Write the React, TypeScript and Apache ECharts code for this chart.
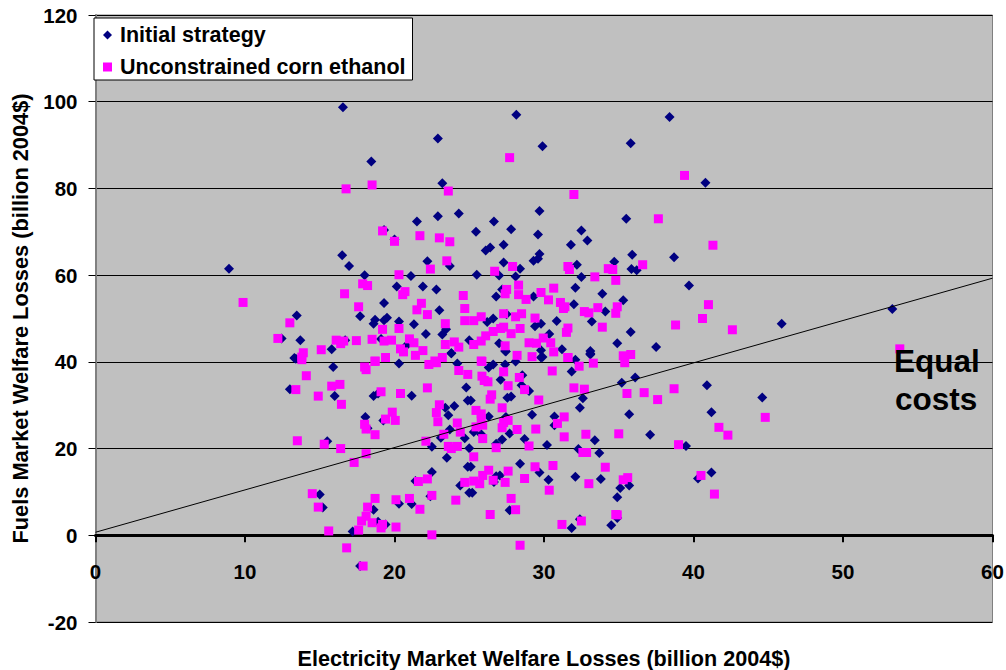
import React, { useEffect, useRef } from "react";
import * as echarts from "echarts";

const initialStrategy: number[][] = [
[16.55,98.7],[18.45,86.2],[19.3,70.4],[16.5,64.6],[16.96,62.1],[18,60],[8.93,61.5],[19.3,53.6],[13.46,50.7],[17.7,50.5],[18.7,49.7],[18.6,48.8],[19.3,49.6],[19.5,50.2],[13.7,45],[12.45,45.4],[16.7,45],[15.8,42.9],[19.1,45.3],[13.3,40.9],
[28.15,97],[38.4,96.5],[22.9,91.5],[29.9,89.7],[35.8,90.4],[23.2,81.2],[29.7,74.8],[35.5,73],[21.5,72.4],[22.9,73.6],[24.3,74.2],[26.65,72.4],[25.45,70],[27.8,70.6],[29.6,69.4],[32.5,70.3],[32.9,68],[31.8,67],[27.3,67],[26.4,66.4],[26.1,65.7],[20,68.2],[29.7,64.9],[29.6,63.8],[29.3,63.3],[22.2,63.2],[23.7,62.1],[27.3,62.9],[28.4,61.5],[32.2,62.4],[34.7,63.1],[35.9,64.7],[38.7,64.1],[35.85,61.4],[36.2,61.1],[21.1,59.8],[25.5,60.1],[27,59.9],[28.1,59.7],[32.5,59.6],[20.15,57.4],[21.9,57.4],[22.8,56.7],[32.1,57.1],[33.9,55.7],[39.7,57.6],[26.8,55.1],[27.2,56.7],[29.3,55.1],[35.3,54.2],[23,51.9],[32,53.3],[34.1,51.6],[33.2,49.3],[20.3,49.3],[21.3,48.7],[26.2,49.2],[26.6,50],[27.5,51],[30.85,49.4],[29.4,48.2],[29.8,48.8],[35.8,46.9],[22.1,46.4],[23.2,46.3],[23.45,47.5],[30.35,46.4],[34.9,44.3],[37.5,43.4],[25,45],[27,44.3],[31.2,42.9],[33.1,42.5],[33.1,41.7],[27.4,42.5],[29.8,42.7],[29.9,41.1],[23.8,42],[20.8,43.8],
[13.4,40.7],[15.9,38.8],[13,33.7],[16,32.1],[18.6,32.1],[18.9,32.7],[21.15,32.2],[20.3,39.6],[23.8,42],[24.2,39.6],[24.8,34.1],[24.9,31.1],[23.4,29.4],[24,29.8],[23.6,27.7],[18.05,27.3],[19.25,26.5],[18.2,24.7],[23.7,24.4],[23.1,22.5],[24.7,22.4],[15.5,21.7],[22.5,20.4],[25,20.1],[23.5,17.9],[24.9,15.8],[22.5,14.6],[21.4,12.5],[24.4,11.5],[25,9.8],[15,9.4],[15.2,6.4],[18.6,5.9],[20.3,7.3],[21.15,7.2],[22.4,9],[18.9,3.1],[19.4,2.5],[17.2,0.9],[17.7,-7.1],
[27.45,42.4],[28.1,40.1],[27.4,39.4],[26.6,39.4],[26.3,38.7],[31.85,37.8],[29.8,41],[32.1,40.5],[33.1,41.9],[27.1,35.9],[28.55,36.9],[28.5,34.6],[29,33.3],[27.8,32],[27.55,31.7],[32.6,31.6],[32.4,29.4],[35.2,35.2],[36.1,36.4],[40.9,34.6],[44.6,31.8],[41.2,28.4],[35.7,27.9],[29.2,27.8],[30.7,27.4],[30.7,25.4],[26.3,27.4],[27.45,27.3],[25.1,31.1],[27.7,23.5],[27.2,22.1],[26.8,21.1],[25.8,23.3],[25.3,23.8],[37.1,23.2],[33.4,21.9],[28.7,22.2],[30.2,20.8],[32.3,19.9],[33.7,19],[39.5,20.6],[28.4,16.5],[29.7,14.5],[30.3,12.8],[32.1,13.5],[33.8,13],[41.2,14.5],[40.3,13.1],[35.7,11.5],[35.1,10.9],[34.9,8.8],[25.2,9.8],[25.1,15.8],[27.05,13.8],[26.8,13.6],[26.65,12.3],[27.7,5.8],[32.4,3.7],[31.85,1.7],[34.5,2.3],[34.9,4],
[45.9,48.8],[53.3,52.2],[40.8,81.3],
];

const unconstrainedCornEthanol: number[][] = [
[16.76,79.9],[18.5,80.8],[19.2,70.2],[9.87,53.7],[16.66,55.7],[17.87,58],[18.2,57.6],[17.6,52.7],[13,49],[19.2,47.5],[12.2,45.4],[13.9,42.1],[13.8,41.1],[15.1,42.8],[16.1,45],[16.4,44.2],[16.6,44.8],[17.45,44.9],[18.5,45.2],[19.3,44.8],[18.7,40.2],[19.4,41],
[27.7,87.1],[39.4,83],[23.6,79.4],[32,78.6],[37.65,73],[20,67.8],[21.7,69.1],[23,68.6],[23.7,67.7],[23.5,63.3],[22.4,61.4],[20.3,60.1],[27.9,62],[26.7,60.9],[31.6,62],[31.7,61.3],[36.6,62.4],[34.3,61.5],[34.6,61.3],[33.4,59.6],[34.8,58.8],[28.3,57.7],[30.65,57],[27.5,56.7],[27.4,55.7],[20.7,56.2],[20.55,55.5],[24.6,55.3],[28.3,55.5],[29.8,56],[28.8,54.4],[30.3,54.3],[31.1,53.7],[31.4,52.7],[31.3,52.3],[21.8,53.5],[21.5,52],[22.2,50.9],[24.7,52.3],[27.3,51.1],[28.5,51.1],[28.1,50.4],[25.8,50.4],[29.4,50.1],[32.7,51.6],[33,51.3],[33.6,52.5],[34.9,52.7],[34.8,51.2],[38.8,48.5],[33.9,48],[23.4,48.8],[24.7,49.5],[25.3,49.5],[20.3,47.7],[27.3,48],[28.4,47.7],[31.6,47.8],[31.5,46.8],[26.6,47],[27.1,47.7],[27.8,46.5],[26.1,46],[25.8,44.8],[25.3,44],[23.4,44],[24,44.6],[24.3,43.4],[27.4,43.7],[29,44.4],[29.5,44.3],[29.95,45.5],[30.45,44.4],[30.65,42.3],[28.2,41.5],[29.2,41.2],[31.6,41],[35.3,41.4],[35.8,41.7],[21,45.3],[21.3,44.4],[20.4,43],[21.9,42.6],[20.6,42.3],[19.8,45],[21.4,41.5],[23.2,41],[25.8,40.2],[22.7,40.2],
[13.8,40.5],[14.1,36.8],[13.4,33.6],[14.9,32.1],[15.8,34.4],[16.35,34.8],[16.45,30.2],[18,38.8],[18.1,38.2],[18.7,40.1],[19.1,33.1],[20.4,32.7],[22.2,34],[23,30.1],[22.8,28.3],[22.9,26.2],[24.2,25.9],[23.3,23.3],[24.4,23.8],[22.1,21.7],[23.6,20.5],[24.2,20.5],[23.8,20],[19.85,28.4],[19.4,26.8],[20.05,26.5],[18,25.6],[18.1,24.5],[18.7,23.2],[13.5,21.8],[15.3,21],[16.4,20],[18.1,18.8],[17.3,16.8],[21.6,12.4],[22.2,13],[24.7,12.2],[14.5,9.6],[14.9,6.5],[18.7,8.5],[20.1,8.2],[21,8.5],[22.5,9.2],[24.1,8.1],[21.7,6],[18.2,6.5],[18.1,4.4],[17.8,3.3],[18.5,2.9],[19.2,2.5],[19.1,1.7],[20.1,1.9],[15.6,1],[17.6,1.2],[22.5,0.1],[16.8,-2.9],[17.9,-7.1],[22.3,39.4],[22.8,39.8],[24.3,38],[24.9,37.1],
[25.85,40.1],[31.6,41],[32.35,39],[33.3,39.7],[35.4,39.8],[27.3,37.7],[30.55,37.9],[28.35,36.4],[25.85,36.7],[26,35.7],[26.25,35.4],[27.6,34.5],[28.7,33.6],[32,34],[32.7,33.7],[35.55,32.7],[36.7,32.9],[38.7,33.8],[37.6,31.3],[26.5,32.4],[26.4,31.4],[29.65,31.2],[27.2,29.4],[25.45,28.8],[25.8,28],[25.8,26.9],[31.35,27.3],[30.9,25.8],[27.6,26.5],[27.3,26],[27.2,24.8],[28.2,24.4],[29.45,24.5],[25.9,25.4],[25.45,25],[25.9,22.3],[31.35,22.7],[32.8,23.3],[35,23.4],[41.7,24.9],[42.3,23.1],[44.8,27.2],[39,20.9],[26.8,20.2],[29,20.6],[32.6,19.1],[32.85,19.1],[25.3,18.1],[30.6,16.1],[29.4,15.8],[34.1,15.7],[27.6,14.8],[26.3,15],[25.9,13.8],[25.3,12.5],[25.7,11.9],[26.6,12.7],[27.4,12.2],[28.7,13.1],[33,11.9],[35.3,12.8],[35.6,13.3],[40.5,13.8],[30.35,10.4],[41.4,9.5],[27.8,8.5],[26.4,4.8],[28.1,5.9],[34.8,4.8],[34.9,4.7],[31.2,2.5],[32.5,3.3],[28.4,-2.3],
[42.6,47.4],[40.6,50],[41,53.2],[41.3,66.9],[53.8,43],
];

const equalCostLine: number[][] = [[0, 0.7], [60, 59.3]];
const seriesNames = ["Initial strategy", "Unconstrained corn ethanol"];
const xTitle = "Electricity Market Welfare Losses (billion 2004$)";
const yTitle = "Fuels Market Welfare Losses (billion 2004$)";
const FONT = '"Liberation Sans", Arial, sans-serif';

export default function App() {
  const ref = useRef<HTMLDivElement>(null);
  useEffect(() => {
    document.body.style.margin = "0";
    const chart = echarts.init(ref.current!, undefined, { renderer: "svg" });
    chart.setOption({
      animation: false,
      backgroundColor: "#ffffff",
      textStyle: { fontFamily: FONT },
      grid: { left: 95.5, right: 13.5, top: 15, bottom: 48, show: true, backgroundColor: "#C0C0C0", borderColor: "#808080", borderWidth: 1, outerBoundsMode: "none", containLabel: false },
      legend: {
        left: 94, top: 18, orient: "vertical", padding: [6, 7, 2, 9], itemGap: 10,
        backgroundColor: "#ffffff", borderColor: "#000000", borderWidth: 1,
        itemWidth: 9, itemHeight: 9, data: [
          { name: seriesNames[0], icon: "diamond" },
          { name: seriesNames[1], icon: "rect" },
        ],
        textStyle: { fontFamily: FONT, fontSize: 21.5, fontWeight: "bold", color: "#000", padding: [0, 0, 0, 3] },
      },
      xAxis: {
        type: "value", min: 0, max: 60, interval: 10,
        name: xTitle, nameLocation: "middle", nameGap: 25, nameMoveOverlap: false,
        nameTextStyle: { fontFamily: FONT, fontSize: 21.6, fontWeight: "bold", color: "#000" },
        axisLine: { onZero: true, lineStyle: { color: "#000", width: 3 } },
        axisTick: { show: true, length: 7, lineStyle: { color: "#000", width: 2 } },
        axisLabel: { margin: -61, fontFamily: FONT, fontSize: 20.5, fontWeight: "bold", color: "#000", showMinLabel: true, showMaxLabel: true },
        splitLine: { show: false },
      },
      yAxis: {
        type: "value", min: -20, max: 120, interval: 20,
        name: yTitle, nameLocation: "middle", nameGap: 64, nameMoveOverlap: false,
        nameTextStyle: { fontFamily: FONT, fontSize: 21.8, fontWeight: "bold", color: "#000" },
        axisLine: { onZero: false, lineStyle: { color: "#808080", width: 2 } },
        axisTick: { show: true, length: 7, lineStyle: { color: "#000", width: 1 } },
        axisLabel: { margin: 18, fontFamily: FONT, fontSize: 20.5, fontWeight: "bold", color: "#000" },
        splitLine: { show: true, lineStyle: { color: "#000", width: 1 } },
      },
      series: [
        { name: seriesNames[0], type: "scatter", symbol: "diamond", symbolSize: 10, itemStyle: { color: "#000080", opacity: 1 }, data: initialStrategy, z: 3 },
        { name: seriesNames[1], type: "scatter", symbol: "rect", symbolSize: 9, itemStyle: { color: "#FF00FF", opacity: 1 }, data: unconstrainedCornEthanol, z: 4 },
        { name: "Equal costs line", type: "line", symbol: "none", lineStyle: { color: "#000", width: 1 }, data: equalCostLine, z: 5 },
      ],
      graphic: [
        { type: "text", left: 894, top: 345, z: 100, style: { text: "Equal", font: `bold 31.5px ${FONT}`, fill: "#000" } },
        { type: "text", left: 895, top: 383, z: 100, style: { text: "costs", font: `bold 31.5px ${FONT}`, fill: "#000" } },
      ],
    });
    return () => chart.dispose();
  }, []);
  return <div ref={ref} style={{ width: 1006, height: 670 }} />;
}
